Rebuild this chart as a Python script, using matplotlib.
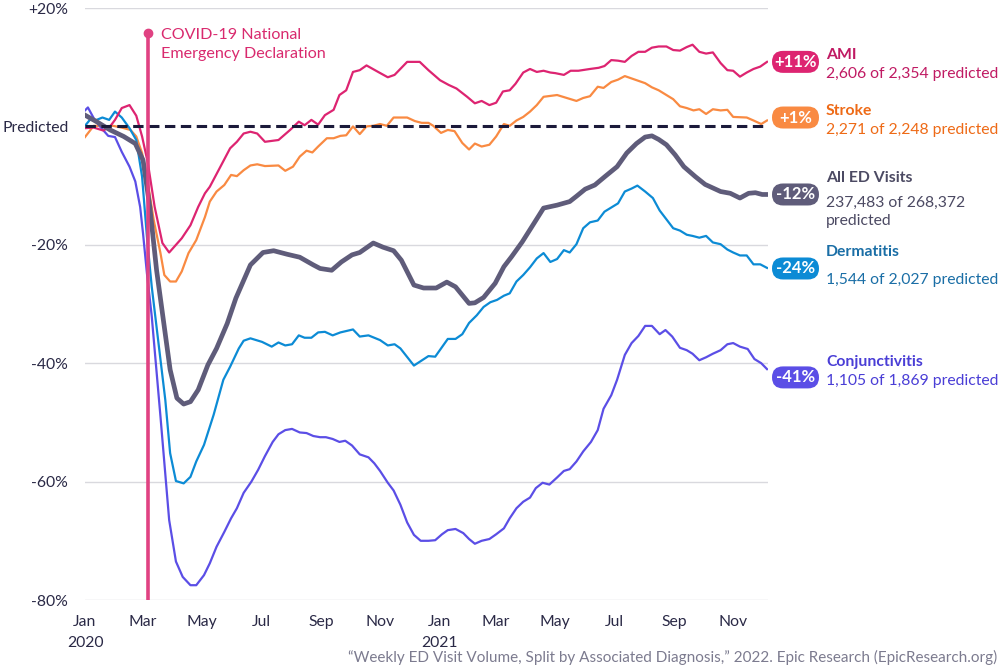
import pandas as pd
import matplotlib
matplotlib.use("Agg")
import matplotlib.pyplot as plt
import matplotlib.transforms as mtransforms
from matplotlib.patches import FancyBboxPatch

plt.rcParams['font.family'] = ['Lato', 'DejaVu Sans']

# days since 1 Jan 2020, % above/below predicted weekly ED volume
ami_day = [0, 9, 19, 26, 31, 38, 46, 53, 59, 65, 72, 80, 87, 100, 109, 117, 124, 129, 140, 150,
           157, 164, 171, 178, 186, 200, 212, 221, 227, 234, 241, 248, 257, 263, 270, 277, 284, 291,
           303, 313, 320, 333, 346, 355, 367, 376, 384, 395, 403, 410, 418, 425, 432, 439, 445, 453,
           460, 467, 474, 481, 486, 495, 502, 510, 522, 531, 537, 544, 551, 558, 565, 572, 579, 586,
           593, 601, 608, 615, 622, 628, 635, 642, 649, 657, 664, 670, 677, 684, 691, 698, 705]
ami_val = [-0.3, -0.2, -0.7, 0, 1.1, 3.1, 3.6, 1.8, -1.7, -6.2, -13.6, -19.7, -21.3, -18.9, -16.7,
           -13.6, -11.3, -10.2, -6.8, -3.7, -2.6, -1.2, -0.9, -1.2, -2.6, -2.3, -0.6, 0.8, 0.2, 1.1,
           0.3, 1.9, 2.8, 5.3, 6.1, 9.2, 9.5, 10.3, 9.2, 8.3, 8.7, 10.9, 10.9, 9.5, 7.8, 7.0, 6.4, 5.0,
           3.9, 4.3, 3.6, 4.0, 5.9, 6.1, 7.2, 9.1, 9.7, 9.2, 9.4, 9.1, 9.0, 8.7, 9.4, 9.4, 9.7, 9.9,
           10.2, 11.2, 11.1, 10.9, 11.9, 12.6, 12.6, 13.3, 13.5, 13.5, 12.9, 12.8, 13.4, 13.8, 12.6,
           12.3, 12.5, 10.7, 9.5, 9.4, 8.4, 9.1, 9.7, 10.1, 10.9]

stroke_day = [0, 9, 19, 29, 38, 47, 53, 59, 64, 71, 78, 82, 88, 94, 100, 107, 115, 124, 129, 136,
              144, 151, 157, 164, 171, 178, 186, 200, 207, 215, 222, 229, 235, 241, 250, 257, 264,
              270, 277, 284, 291, 298, 305, 312, 319, 333, 341, 348, 355, 360, 368, 375, 382, 390,
              397, 403, 410, 418, 425, 433, 439, 446, 453, 460, 467, 474, 488, 496, 508, 515, 522,
              530, 536, 544, 551, 558, 565, 572, 579, 586, 593, 601, 608, 615, 622, 629, 635, 642,
              649, 657, 664, 670, 684, 691, 699, 705]
stroke_val = [-1.8, 0.1, 0, 0.1, -0.2, -0.6, -1.7, -4.5, -8.5, -15.8, -21.4, -25.1, -26.2, -26.2,
              -24.5, -21.4, -19.2, -15.3, -12.7, -11.0, -9.9, -8.2, -8.4, -7.4, -6.6, -6.4, -6.7,
              -6.6, -7.5, -6.8, -5.1, -4.1, -4.4, -3.4, -2.0, -2.0, -1.6, -1.5, 0, -1.3, 0, 0.1,
              0.4, 0.1, 1.5, 1.5, 0.9, 0.6, 0.6, 0.1, -1.1, -0.6, -0.8, -2.8, -3.9, -2.9, -3.4,
              -3.1, -1.7, 0.4, 0.1, 1.0, 1.6, 2.5, 3.6, 5.0, 5.3, 4.9, 4.3, 4.8, 5.1, 6.7, 6.5, 7.5,
              7.9, 8.5, 8.1, 7.7, 7.3, 6.6, 6.1, 5.3, 4.6, 3.4, 3.1, 2.7, 2.9, 2.1, 2.9, 2.7, 2.8,
              1.6, 1.5, 1.0, 0.4, 1.0]

all_day = [0, 12, 26, 40, 52, 60, 67, 74, 81, 88, 95, 102, 109, 117, 127, 136, 147, 156, 171, 184,
           195, 209, 222, 236, 243, 255, 265, 276, 284, 298, 308, 319, 327, 340, 350, 363, 374, 383,
           397, 403, 412, 424, 433, 441, 452, 464, 474, 488, 501, 508, 517, 527, 538, 550, 560, 570,
           579, 586, 593, 601, 610, 619, 631, 641, 657, 667, 677, 686, 693, 700, 705]
all_val = [1.9, 0.8, -0.6, -1.7, -2.9, -5.7, -13.6, -24.3, -32.7, -41.1, -45.9, -46.9, -46.5, -44.5,
           -40.3, -37.5, -33.3, -29.0, -23.4, -21.3, -21.0, -21.6, -22.1, -23.4, -24.0, -24.3,
           -22.9, -21.7, -21.3, -19.7, -20.4, -21.0, -22.6, -26.8, -27.3, -27.3, -26.3, -27.1,
           -29.9, -29.8, -28.9, -26.5, -23.7, -22.0, -19.5, -16.4, -13.8, -13.3, -12.7, -11.8,
           -10.6, -9.9, -8.4, -6.8, -4.5, -2.9, -1.8, -1.6, -2.2, -3.1, -4.8, -6.8, -8.5, -9.8,
           -11.0, -11.3, -12.1, -11.3, -11.2, -11.5, -11.5]

derm_day = [0, 5, 12, 18, 25, 31, 38, 46, 53, 59, 64, 69, 83, 88, 94, 102, 109, 115, 123, 133, 143,
            150, 159, 164, 171, 183, 193, 200, 207, 214, 221, 227, 234, 241, 248, 256, 264, 277,
            284, 293, 305, 313, 320, 326, 340, 355, 362, 375, 383, 390, 397, 405, 412, 419, 426,
            433, 439, 446, 453, 460, 467, 474, 481, 488, 495, 501, 508, 515, 522, 530, 537, 544,
            551, 558, 565, 571, 579, 587, 594, 601, 608, 615, 622, 628, 635, 642, 649, 657, 664,
            670, 677, 684, 691, 698, 705]
derm_val = [0.1, 1.1, 1.1, 1.5, 1.1, 2.5, 1.5, -0.3, -2.3, -8.5, -18.6, -27.1, -46.2, -55.2, -59.9,
            -60.3, -59.2, -56.6, -53.8, -48.7, -42.8, -40.6, -37.5, -36.2, -35.8, -36.4, -37.2,
            -36.5, -37.0, -36.8, -35.3, -35.7, -35.7, -34.8, -34.7, -35.3, -34.8, -34.3, -35.5,
            -35.3, -36.1, -37.0, -36.8, -37.5, -40.4, -38.8, -38.9, -35.9, -35.9, -35.1, -33.2,
            -31.9, -30.5, -29.7, -29.3, -28.6, -28.2, -26.2, -25.1, -23.8, -22.3, -21.4, -22.9,
            -22.4, -20.9, -21.3, -19.9, -17.2, -16.2, -15.9, -14.4, -13.7, -13.0, -11.0, -10.5,
            -10.0, -11.0, -12.1, -14.2, -15.7, -17.2, -17.6, -18.3, -18.5, -18.8, -18.5, -19.6,
            -19.9, -20.8, -21.3, -21.8, -21.8, -23.3, -23.3, -23.9]

conj_day = [0, 3, 10, 17, 24, 31, 38, 46, 52, 57, 60, 64, 69, 78, 87, 94, 101, 109, 115, 123, 129,
            136, 144, 151, 157, 164, 172, 179, 186, 194, 200, 207, 214, 222, 229, 236, 243, 249,
            256, 263, 269, 276, 284, 293, 299, 305, 313, 319, 326, 333, 340, 347, 355, 362, 369,
            375, 383, 391, 397, 403, 410, 418, 425, 433, 439, 446, 453, 460, 466, 473, 480, 488,
            495, 501, 508, 515, 523, 530, 536, 544, 550, 558, 565, 572, 579, 586, 594, 600, 607,
            615, 622, 628, 635, 642, 649, 657, 664, 670, 677, 685, 692, 699, 705]
conj_val = [2.7, 3.2, 1.1, -0.3, -1.6, -1.8, -4.3, -6.8, -9.3, -13.6, -18.1, -24.8, -32.1, -49.0,
            -66.5, -73.5, -76.1, -77.5, -77.5, -75.8, -73.8, -71.0, -68.5, -66.2, -64.5, -61.9,
            -60.0, -58.0, -55.7, -53.3, -52.0, -51.3, -51.1, -51.7, -51.8, -52.3, -52.5, -52.5,
            -52.8, -53.3, -53.1, -53.9, -55.4, -55.9, -56.9, -58.2, -60.2, -61.5, -63.9, -66.9,
            -69.0, -70.0, -70.0, -69.9, -68.9, -68.2, -68.0, -68.7, -69.7, -70.5, -70.0, -69.7,
            -68.9, -67.9, -66.2, -64.5, -63.4, -62.7, -61.1, -60.2, -60.5, -59.3, -58.2, -57.9,
            -56.6, -54.9, -53.3, -51.3, -47.7, -45.4, -42.8, -38.6, -36.6, -35.4, -33.7, -33.7,
            -35.1, -34.4, -35.5, -37.4, -37.8, -38.4, -39.5, -39.0, -38.4, -37.8, -36.8, -36.6,
            -37.2, -37.6, -39.3, -40.0, -41.0]

names = ["AMI", "Stroke", "All ED Visits", "Dermatitis", "Conjunctivitis"]
badges = ["+11%", "+1%", "-12%", "-24%", "-41%"]
details = ["2,606 of 2,354 predicted", "2,271 of 2,248 predicted",
           "237,483 of 268,372\npredicted", "1,544 of 2,027 predicted",
           "1,105 of 1,869 predicted"]

emergency_day = 65
start = pd.Timestamp("2020-01-01")


def to_dates(days):
    return start + pd.to_timedelta(days, unit="D")


series = [(ami_day, ami_val), (stroke_day, stroke_val), (all_day, all_val),
          (derm_day, derm_val), (conj_day, conj_val)]
line_colors = ["#DD2471", "#F98A42", "#5F5C7A", "#0C8BD5", "#5B4EE6"]
text_colors = ["#C01A63", "#EE6A16", "#4C4A63", "#1A6EA6", "#4A3ED6"]
widths = [1.6, 1.6, 3.4, 1.6, 1.6]
z = [4, 3, 5, 3, 3]
FS = 11.3

fig = plt.figure(figsize=(10, 6.67), dpi=100)
ax = fig.add_axes([0.085, 1 - 600 / 667, 0.683, 592 / 667])

for (d, v), c, w, zz in zip(series, line_colors, widths, z):
    ax.plot(to_dates(d), v, color=c, lw=w, zorder=zz, solid_joinstyle='round')

ax.axhline(0, color="#1B1A3A", lw=2.2, ls=(0, (3.4, 1.8)), zorder=6)
for g in [20, -20, -40, -60, -80]:
    ax.axhline(g, color="#D9D9DE", lw=1, zorder=0)

ax.set_xlim(to_dates([0])[0], to_dates([706])[0])
ax.set_ylim(-80, 20)

# emergency declaration
ed = to_dates([emergency_day])[0]
ax.plot([ed, ed], [-80, 15.8], color="#E04282", lw=2.6, zorder=7, solid_capstyle='butt')
ax.plot([ed], [15.8], 'o', color="#E04282", ms=6, zorder=7)
ax.text(to_dates([emergency_day + 14])[0], 16.6, "COVID-19 National\nEmergency Declaration",
        color="#D92A6E", fontsize=11.6, va='top', ha='left', linespacing=1.4)

ticks = pd.date_range("2020-01-01", "2021-11-01", freq="2MS")
labels = [t.strftime("%b") + ("\n" + str(t.year) if t.month == 1 else "") for t in ticks]
ax.set_xticks(ticks)
ax.set_xticklabels(labels, fontsize=FS, color="#2A2946", linespacing=1.65)
ax.set_yticks([20, 0, -20, -40, -60, -80])
ax.set_yticklabels(["+20%", "Predicted", "-20%", "-40%", "-60%", "-80%"], fontsize=FS,
                   color="#2A2946")
ax.tick_params(length=0)
ax.tick_params(axis='y', pad=12)
ax.tick_params(axis='x', pad=10.5)
for s in ax.spines.values():
    s.set_visible(False)

# right-hand labels
tr = mtransforms.blended_transform_factory(fig.transFigure, ax.transData)
name_y = [12.1, 2.6, -8.7, -21.2, -39.8]
detail_y = [8.9, -0.6, -11.8, -25.9, -43.0]
badge_y = [10.9, 1.5, -11.5, -24.0, -42.4]
fig.canvas.draw()
for i in range(5):
    yd = ax.transData.transform((0, badge_y[i]))[1]
    ax.add_artist(FancyBboxPatch((772, yd - 11), 47, 22,
                                 boxstyle="round,pad=0,rounding_size=11",
                                 fc=line_colors[i], ec='none',
                                 transform=mtransforms.IdentityTransform(),
                                 clip_on=False, zorder=9))
    ax.text(0.7955, badge_y[i], badges[i], transform=tr, ha='center', va='center',
            fontsize=12, fontweight='bold', color='white', zorder=10)
    ax.text(0.826, name_y[i], names[i], transform=tr, ha='left', va='center',
            fontsize=FS, fontweight='bold', color=text_colors[i])
    ax.text(0.826, detail_y[i], details[i], transform=tr, ha='left',
            va='top' if i == 2 else 'center',
            fontsize=FS, color=text_colors[i], linespacing=1.3)

fig.text(0.997, 1 - 657 / 667,
         "\u201cWeekly ED Visit Volume, Split by Associated Diagnosis,\u201d 2022. Epic Research (EpicResearch.org)",
         ha='right', va='center', fontsize=11, color="#7C7B8F")

fig.savefig("out.png", dpi=100)
